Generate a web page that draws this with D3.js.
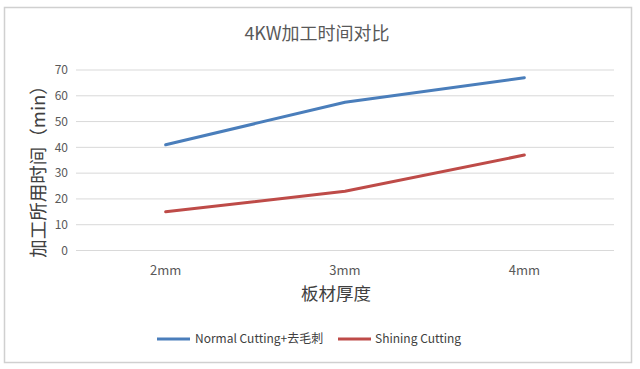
<!DOCTYPE html>
<meta charset="utf-8">
<title>4KW加工时间对比</title>
<style>
  body { margin: 0; background: #fff; }
  text { font-family: "Noto Sans CJK SC", "Noto Sans", sans-serif; }
</style>
<body>
<script src="https://d3js.org/d3.v7.min.js"></script>
<script>
// chart data
const categories = ["2mm", "3mm", "4mm"];
const normalCutting = [41, 57.5, 67];
const shiningCutting = [15, 23, 37];
const yTicks = [0, 10, 20, 30, 40, 50, 60, 70];
const seriesNames = ["Normal Cutting+去毛刺", "Shining Cutting"];
const seriesColors = ["#4a7ebb", "#be4b48"];

const width = 640, height = 369;
const m = {left: 76, right: 614, top: 70, bottom: 250.5};

const svg = d3.select("body").append("svg")
  .attr("width", width).attr("height", height);

// outer frame
svg.append("rect")
  .attr("x", 4.5).attr("y", 7.5).attr("width", 627).attr("height", 355)
  .attr("fill", "#fff").attr("stroke", "#d0d0d0").attr("stroke-width", 1.5);

const x = d3.scaleBand().domain(categories).range([m.left, m.right]);
const y = d3.scaleLinear().domain([0, 70]).range([m.bottom, m.top]);

// gridlines
svg.append("g").selectAll("line").data(yTicks).join("line")
  .attr("x1", m.left).attr("x2", m.right)
  .attr("y1", d => y(d)).attr("y2", d => y(d))
  .attr("stroke", "#d9d9d9").attr("stroke-width", 1);

// y tick labels
svg.append("g").selectAll("text").data(yTicks).join("text")
  .attr("x", 68).attr("y", d => y(d)).attr("dy", "0.35em")
  .attr("text-anchor", "end").attr("font-size", 12).attr("fill", "#595959")
  .text(d => d);

// x tick labels
svg.append("g").selectAll("text").data(categories).join("text")
  .attr("x", d => x(d) + x.bandwidth() / 2).attr("y", 270).attr("dy", "0.35em")
  .attr("text-anchor", "middle").attr("font-size", 13).attr("fill", "#595959")
  .text(d => d);

// lines
const line = d3.line()
  .x((d, i) => x(categories[i]) + x.bandwidth() / 2)
  .y(d => y(d));
[normalCutting, shiningCutting].forEach((s, i) => {
  svg.append("path").datum(s)
    .attr("d", line).attr("fill", "none")
    .attr("stroke", seriesColors[i]).attr("stroke-width", 3)
    .attr("stroke-linecap", "round").attr("stroke-linejoin", "round");
});

// title
svg.append("text").attr("x", 317).attr("y", 34).attr("dy", "0.35em")
  .attr("text-anchor", "middle").attr("font-size", 18).attr("fill", "#595959")
  .text("4KW加工时间对比");

// axis titles
svg.append("text").attr("x", 336).attr("y", 294).attr("dy", "0.35em")
  .attr("text-anchor", "middle").attr("font-size", 17.5).attr("fill", "#404040")
  .text("板材厚度");
svg.append("text")
  .attr("transform", "translate(39,167) rotate(-90)").attr("dy", "0.35em")
  .attr("text-anchor", "middle").attr("font-size", 18.5).attr("fill", "#404040")
  .text("加工所用时间（min）");

// legend
const legendItems = [{x: 157, tx: 195}, {x: 338, tx: 375}];
legendItems.forEach((p, i) => {
  svg.append("line").attr("x1", p.x).attr("x2", p.x + 33)
    .attr("y1", 339).attr("y2", 339)
    .attr("stroke", seriesColors[i]).attr("stroke-width", 3);
  svg.append("text").attr("x", p.tx).attr("y", 339).attr("dy", "0.35em")
    .attr("font-size", 12).attr("fill", "#404040")
    .text(seriesNames[i]);
});
</script>
